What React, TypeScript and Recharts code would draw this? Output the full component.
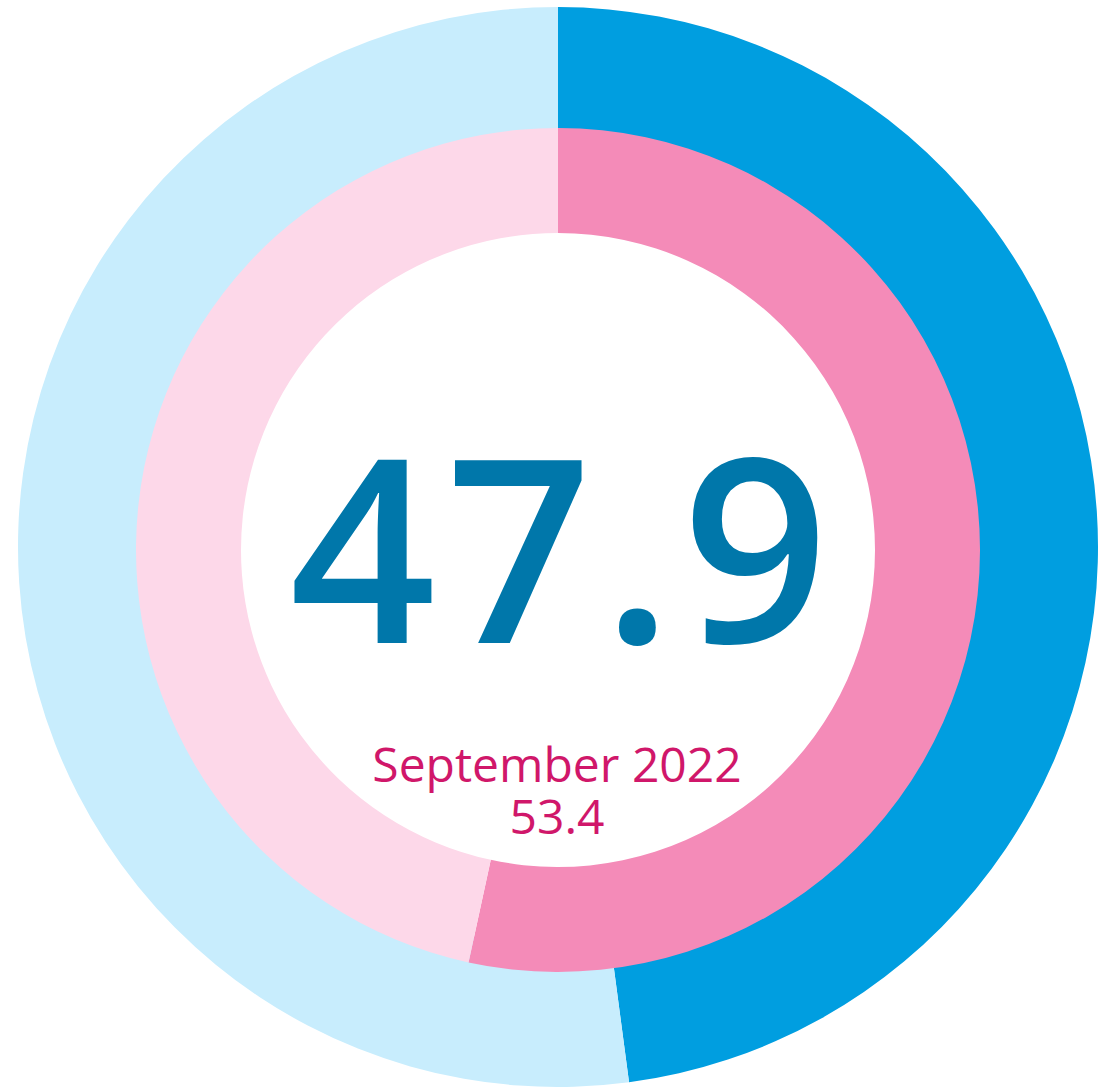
import { Cell, Pie, PieChart } from 'recharts'

const outerNames = ['Share', 'Rest']
const outerValues = [47.9, 52.1]
const innerNames = ['September 2022', 'Rest']
const innerValues = [53.4, 46.6]

const outerColors = ['#009ee0', '#c8edfd']
const innerColors = ['#f48bb8', '#fdd8e9']

const outerData = outerNames.map((name, i) => ({ name, value: outerValues[i] }))
const innerData = innerNames.map((name, i) => ({ name, value: innerValues[i] }))

const W = 1112
const H = 1087
const CX = 558
const CY = 547

export default function App() {
  return (
    <div style={{ position: 'absolute', left: 0, top: 0, width: W, height: H, background: '#fff' }}>
      <PieChart width={W} height={H} margin={{ top: 0, right: 0, bottom: 0, left: 0 }}>
        <Pie
          data={outerData}
          dataKey="value"
          cx={CX}
          cy={CY}
          innerRadius={400}
          outerRadius={540}
          startAngle={90}
          endAngle={-270}
          stroke="none"
          isAnimationActive={false}
        >
          {outerData.map((d, i) => (
            <Cell key={d.name} fill={outerColors[i]} />
          ))}
        </Pie>
        <Pie
          data={innerData}
          dataKey="value"
          cx={CX}
          cy={CY + 3}
          innerRadius={317}
          outerRadius={422}
          startAngle={90}
          endAngle={-270}
          stroke="none"
          isAnimationActive={false}
        >
          {innerData.map((d, i) => (
            <Cell key={d.name} fill={innerColors[i]} />
          ))}
        </Pie>
      </PieChart>
      <svg width={W} height={H} style={{ position: 'absolute', left: 0, top: 0, pointerEvents: 'none' }}>
        <text
          x={564}
          y={643}
          textAnchor="middle"
          fill="#0077aa"
          fontFamily="'Open Sans', sans-serif"
          fontWeight={600}
          fontSize={256}
          letterSpacing={10}
        >
          {outerValues[0].toFixed(1)}
        </text>
        <text x={557} y={782} textAnchor="middle" fill="#d0176a" fontFamily="'Open Sans', sans-serif" fontSize={48}>
          {innerNames[0]}
        </text>
        <text x={557} y={834} textAnchor="middle" fill="#d0176a" fontFamily="'Open Sans', sans-serif" fontSize={48}>
          {innerValues[0].toFixed(1)}
        </text>
      </svg>
    </div>
  )
}
